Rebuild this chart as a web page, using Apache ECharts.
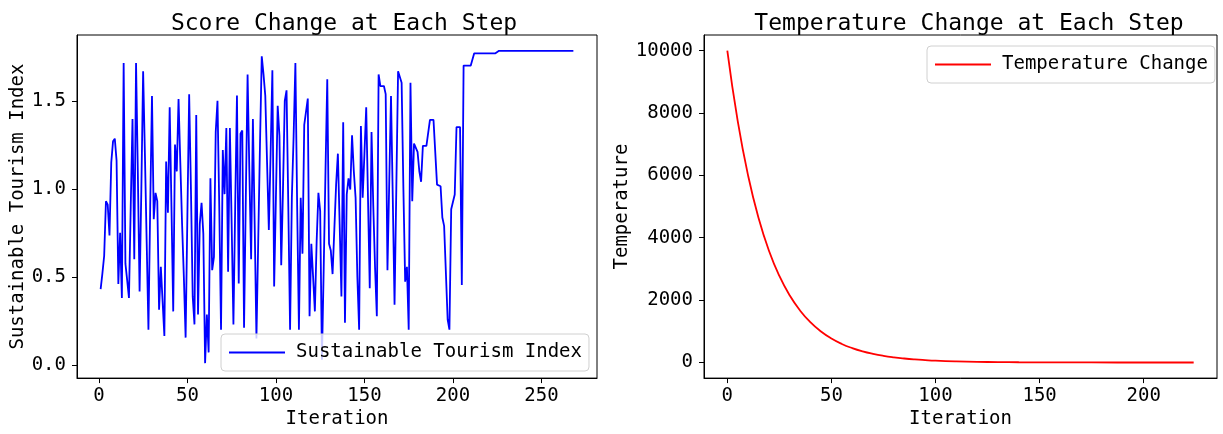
<!DOCTYPE html>
<html><head><meta charset="utf-8">
<script src="https://cdn.jsdelivr.net/npm/echarts@6/dist/echarts.min.js"></script>
<style>html,body{margin:0;padding:0;background:#fff}#c{width:1223px;height:434px}</style>
</head><body><div id="c"></div>
<script>
// Left chart: Sustainable Tourism Index per iteration (iterations 1..268)
const scoreValues = [
0.43,0.52,0.62,0.93,0.91,0.735,1.15,1.27,1.285,1.16,
0.46,0.75,0.38,1.715,0.575,0.48,0.38,0.9,1.397,0.6,
1.715,1.1,0.417,1.0,1.668,1.2,0.7,0.2,0.9,1.528,
0.828,0.977,0.93,0.314,0.557,0.36,0.164,1.155,0.865,1.463,
0.9,0.304,1.252,1.099,1.51,1.15,0.8,0.5,0.155,0.85,
1.538,1.0,0.389,0.23,1.42,0.286,0.8,0.921,0.744,0.01,
0.286,0.071,1.06,0.538,0.613,1.322,1.5,0.9,0.2,1.22,
0.97,1.345,0.529,1.345,0.8,0.23,0.9,1.53,0.463,1.313,
1.332,0.211,0.95,1.65,1.1,0.6,1.397,0.8,0.15,0.7,
1.25,1.753,1.65,1.528,1.15,0.766,1.2,1.674,0.445,0.95,
1.472,1.3,0.566,1.0,1.5,1.56,0.9,0.2,0.95,1.3,
1.715,0.9,0.2,0.95,0.632,1.364,1.357,1.513,0.277,0.688,
0.5,0.304,0.7,0.977,0.874,0.03,0.55,1.1,1.622,0.688,
0.65,0.516,0.77,1.024,1.2,0.8,0.389,1.379,0.24,0.968,
1.06,0.996,1.304,1.1,0.949,0.5,0.2,1.357,0.949,1.2,
1.463,0.95,0.435,1.323,0.9,0.55,0.276,1.65,1.584,1.584,
1.584,1.538,0.538,0.538,1.528,0.95,0.342,1.0,1.668,1.668,
1.603,1.0,0.473,0.557,0.2,1.603,0.93,1.257,1.257,1.21,
1.1,1.04,1.244,1.244,1.244,1.244,1.392,1.392,1.392,1.392,
1.024,1.02,1.015,0.837,0.79,0.79,0.258,0.2,0.884,0.884,
0.968,1.351,1.351,1.351,0.454,1.7,1.7,1.7,1.7,1.7,
1.7,1.77,1.77,1.77,1.77,1.77,1.77,1.77,1.77,1.77,
1.77,1.77,1.77,1.77,1.77,1.784,1.784,1.784,1.784,1.784,
1.784,1.784,1.784,1.784,1.784,1.784,1.784,1.784,1.784,1.784,
1.784,1.784,1.784,1.784,1.784,1.784,1.784,1.784,1.784,1.784,
1.784,1.784,1.784,1.784,1.784,1.784,1.784,1.784,1.784,1.784,
1.784,1.784,1.784,1.784,1.784,1.784,1.784,1.784
];
const scoreStart = 1;
const scoreTicks = [0, 0.5, 1.0, 1.5];
const scoreXTicks = [0, 50, 100, 150, 200, 250];

// Right chart: temperature per iteration (read at sampled iterations)
const tempIter  = [0,5,10,15,20,25,30,35,40,45,50,55,60,65,70,75,80,85,90,95,100,110,120,130,140,150,175,200,224];
const tempValue = [10000,7738,5987,4633,3585,2774,2146,1661,1285,994,769,595,461,356,276,213,165,128,99,77,59,36,21,13,8,5,1,0.35,0.1];
const tempTicks = [0, 2000, 4000, 6000, 8000, 10000];
const tempXTicks = [0, 50, 100, 150, 200];

const FONT = '"DejaVu Sans Mono", monospace';
const scoreData = scoreValues.map((v, i) => [scoreStart + i, v]);
const tempData = tempIter.map((x, i) => [x, tempValue[i]]);

const axisCommon = {
  axisLine: {show: true, onZero: false, lineStyle: {color: '#000', width: 1}},
  axisTick: {show: true, inside: false, length: 5, lineStyle: {color: '#000', width: 1}},
  splitLine: {show: false},
  nameTextStyle: {fontFamily: FONT, fontSize: 19, color: '#000'},
};
function xAx(grid, min, max, ticks) {
  return Object.assign({}, axisCommon, {
    type: 'value', gridIndex: grid, min: min, max: max,
    name: 'Iteration', nameLocation: 'middle', nameGap: 31,
    axisLabel: {fontFamily: FONT, fontSize: 19, color: '#000', margin: 8, customValues: ticks},
    axisTick: Object.assign({}, axisCommon.axisTick, {customValues: ticks})
  });
}
function yAx(grid, min, max, ticks, name, gap, fmt) {
  return Object.assign({}, axisCommon, {
    type: 'value', gridIndex: grid, min: min, max: max,
    name: name, nameLocation: 'middle', nameGap: gap,
    axisLabel: {fontFamily: FONT, fontSize: 19, color: '#000', margin: 11, customValues: ticks, formatter: fmt},
    axisTick: Object.assign({}, axisCommon.axisTick, {customValues: ticks})
  });
}
function legendBox(name, left, top) {
  return {data: [name], left: left, top: top, orient: 'horizontal', icon: 'rect',
    padding: [9, 7, 9, 8], itemWidth: 56, itemHeight: 2, itemGap: 10,
    borderColor: '#d0d0d0', borderWidth: 1, borderRadius: 4, backgroundColor: 'rgba(255,255,255,0.8)',
    textStyle: {fontFamily: FONT, fontSize: 19, color: '#000', padding: [0, 0, 0, 6]}};
}

const chart = echarts.init(document.getElementById('c'), null, {renderer: 'canvas'});
chart.setOption({
  animation: false,
  backgroundColor: '#fff',
  title: [
    {text: 'Score Change at Each Step', left: 339, top: 8, textAlign: 'center',
     textStyle: {fontFamily: FONT, fontSize: 23, fontWeight: 'normal', color: '#000'}},
    {text: 'Temperature Change at Each Step', left: 964, top: 8, textAlign: 'center',
     textStyle: {fontFamily: FONT, fontSize: 23, fontWeight: 'normal', color: '#000'}}
  ],
  grid: [
    {left: 77, right: 626, top: 35, bottom: 51, show: true, borderColor: '#000', borderWidth: 1, backgroundColor: 'transparent'},
    {left: 704, right: 6, top: 35, bottom: 51, show: true, borderColor: '#000', borderWidth: 1, backgroundColor: 'transparent'}
  ],
  xAxis: [
    xAx(0, -12.35, 281.35, scoreXTicks),
    xAx(1, -11.2, 235.2, tempXTicks)
  ],
  yAxis: [
    yAx(0, -0.075, 1.874, scoreTicks, 'Sustainable Tourism Index', 47, v => v.toFixed(1)),
    yAx(1, -500, 10500, tempTicks, 'Temperature', 72, v => String(v))
  ],
  legend: [
    legendBox('Sustainable Tourism Index', 221, 334),
    legendBox('Temperature Change', 927, 46)
  ],
  series: [
    {name: 'Sustainable Tourism Index', type: 'line', xAxisIndex: 0, yAxisIndex: 0,
     data: scoreData, symbol: 'none', lineStyle: {color: '#0000ff', width: 1.8}, itemStyle: {color: '#0000ff'}},
    {name: 'Temperature Change', type: 'line', xAxisIndex: 1, yAxisIndex: 1, smooth: true,
     data: tempData, symbol: 'none', lineStyle: {color: '#ff0000', width: 1.8}, itemStyle: {color: '#ff0000'}}
  ]
});
</script></body></html>
